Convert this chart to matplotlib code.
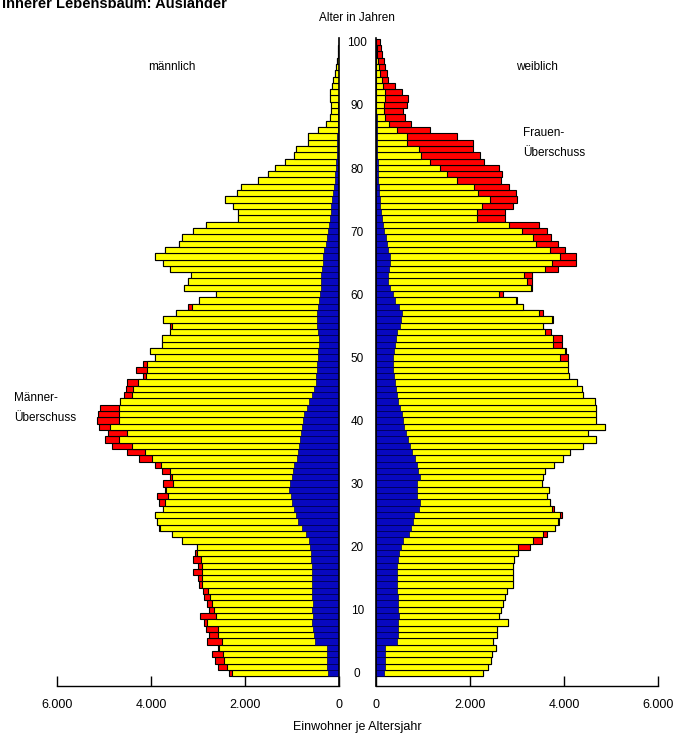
import numpy as np
import matplotlib
matplotlib.use('Agg')
import matplotlib.pyplot as plt
from matplotlib.transforms import blended_transform_factory

plt.rcParams['font.family'] = ['Liberation Sans', 'DejaVu Sans']

# Einwohner je Altersjahr (0..100)
ages = np.arange(0, 101)

maenner = [2350, 2570, 2630, 2700, 2580, 2800, 2760, 2820, 2880, 2950,
           2760, 2800, 2880, 2900, 2970, 3000, 3110, 2990, 3110, 3070,
           3030, 3330, 3560, 3820, 3880, 3920, 3750, 3820, 3880, 3710,
           3750, 3600, 3770, 3920, 4260, 4520, 4830, 4980, 4920, 5110,
           5150, 5130, 5090, 4660, 4580, 4540, 4520, 4170, 4310, 4170,
           3920, 4030, 3770, 3770, 3600, 3600, 3750, 3460, 3220, 2970,
           2610, 3300, 3220, 3140, 3600, 3750, 3920, 3710, 3400, 3330,
           3100, 2820, 2140, 2140, 2260, 2420, 2160, 2080, 1730, 1520,
           1360, 1150, 950, 920, 670, 670, 440, 270, 200, 170,
           170, 200, 200, 150, 120, 90, 70, 50, 30, 20,
           10]

frauen = [2270, 2390, 2440, 2460, 2550, 2490, 2580, 2570, 2800, 2620,
          2650, 2700, 2740, 2780, 2910, 2910, 2910, 2910, 2940, 3020,
          3280, 3530, 3640, 3810, 3900, 3960, 3790, 3700, 3640, 3680,
          3530, 3560, 3600, 3790, 3980, 4130, 4400, 4680, 4510, 4870,
          4680, 4680, 4680, 4660, 4400, 4380, 4280, 4110, 4090, 4090,
          4090, 4040, 3960, 3960, 3720, 3550, 3770, 3550, 3130, 3000,
          2700, 3320, 3320, 3320, 3870, 4260, 4260, 4020, 3870, 3720,
          3640, 3470, 2740, 2740, 2910, 3000, 2980, 2830, 2660, 2680,
          2620, 2300, 2210, 2060, 2060, 1720, 1150, 740, 620, 570,
          660, 690, 550, 400, 255, 230, 200, 160, 120, 100,
          80]

# innerer Lebensbaum: Auslaender
auslaender_m = [240, 250, 260, 250, 260, 520, 540, 560, 570, 560,
                570, 560, 570, 580, 570, 580, 570, 580, 590, 600,
                610, 640, 700, 790, 870, 920, 960, 990, 1030, 1060,
                1040, 1000, 970, 950, 900, 870, 850, 830, 810, 790,
                760, 740, 690, 640, 580, 540, 500, 480, 470, 470,
                450, 440, 420, 430, 450, 460, 470, 470, 450, 420,
                400, 390, 380, 380, 360, 340, 330, 310, 280, 260,
                240, 220, 200, 180, 160, 140, 120, 100, 90, 80,
                70, 60, 50, 50, 40, 40, 30, 30, 20, 20,
                20, 10, 10, 10, 10, 10, 10, 5, 5, 5,
                5]

auslaender_w = [180, 190, 190, 200, 200, 450, 460, 470, 470, 480,
                470, 460, 470, 450, 440, 450, 440, 450, 460, 480,
                540, 570, 700, 740, 790, 800, 920, 940, 880, 870,
                880, 930, 900, 870, 820, 760, 720, 680, 630, 600,
                570, 550, 500, 470, 450, 430, 400, 390, 370, 360,
                370, 380, 400, 430, 450, 500, 540, 550, 480, 400,
                360, 300, 260, 250, 280, 300, 290, 260, 240, 220,
                180, 150, 130, 110, 90, 80, 70, 60, 50, 50,
                40, 40, 30, 30, 30, 20, 20, 20, 20, 10,
                10, 10, 10, 10, 10, 10, 5, 5, 5, 5,
                5]

xticks = [0, 2000, 4000, 6000]
xticklabels = ['0', '2.000', '4.000', '6.000']
age_ticks = list(range(0, 101, 10))

m = np.array(maenner)
f = np.array(frauen)
gemeinsam = np.minimum(m, f)

fig = plt.figure(figsize=(6.75, 7.42), dpi=100)
W, H = 675.0, 742.0
bottom = 1 - 686 / H
height = (686 - 38) / H
ax_l = fig.add_axes([57 / W, bottom, 282 / W, height])
ax_r = fig.add_axes([376 / W, bottom, 282 / W, height])

yellow = '#ffff00'
red = '#ff0000'
blue = '#0808c0'

for ax, tot, aus in [(ax_l, m, auslaender_m), (ax_r, f, auslaender_w)]:
    ax.barh(ages, tot, height=1.0, color=red, edgecolor='black', linewidth=0.8)
    ax.barh(ages, gemeinsam, height=1.0, color=yellow, edgecolor='black', linewidth=0.8)
    ax.barh(ages, aus, height=1.0, color=blue, edgecolor='#000050', linewidth=0.5)
    ax.set_ylim(-2.06, 100.6)
    ax.set_xlim(0, 6000)
    ax.set_xticks(xticks)
    ax.set_xticklabels(xticklabels)
    ax.tick_params(axis='x', direction='in', length=7, width=1, pad=9, labelsize=9)
    ax.spines['top'].set_visible(False)
    ax.spines['bottom'].set_linewidth(1)

ax_l.invert_xaxis()
ax_l.spines['left'].set_visible(False)
ax_l.spines['right'].set_linewidth(1.2)
ax_l.set_yticks([])

ax_r.spines['right'].set_visible(False)
ax_r.spines['left'].set_linewidth(1.2)
ax_r.set_yticks(age_ticks)
ax_r.set_yticklabels([str(a) for a in age_ticks])
ax_r.tick_params(axis='y', length=0, pad=13.5, labelsize=8.5)
for lbl in ax_r.get_yticklabels():
    lbl.set_horizontalalignment('center')

fig.text(2 / W, 1 - 8 / H, 'Innerer Lebensbaum: Ausländer', fontsize=10.5,
         fontweight='bold', ha='left', va='baseline')
fig.text(357 / W, 1 - 18 / H, 'Alter in Jahren', fontsize=8.5, ha='center', va='center')
fig.text(172 / W, 1 - 67 / H, 'männlich', fontsize=8.5, ha='center', va='center')
fig.text(537 / W, 1 - 67 / H, 'weiblich', fontsize=8.5, ha='center', va='center')
fig.text(357 / W, 1 - 727 / H, 'Einwohner je Altersjahr', fontsize=9, ha='center', va='center')

tr_r = blended_transform_factory(fig.transFigure, ax_r.transData)
ax_r.text(523 / W, 84, 'Frauen-\nÜberschuss', transform=tr_r, fontsize=8.5,
          ha='left', va='center', linespacing=1.9)
tr_l = blended_transform_factory(fig.transFigure, ax_l.transData)
ax_l.text(14 / W, 42, 'Männer-\nÜberschuss', transform=tr_l, fontsize=8.5,
          ha='left', va='center', linespacing=1.9)

fig.savefig('out.png', dpi=100)
